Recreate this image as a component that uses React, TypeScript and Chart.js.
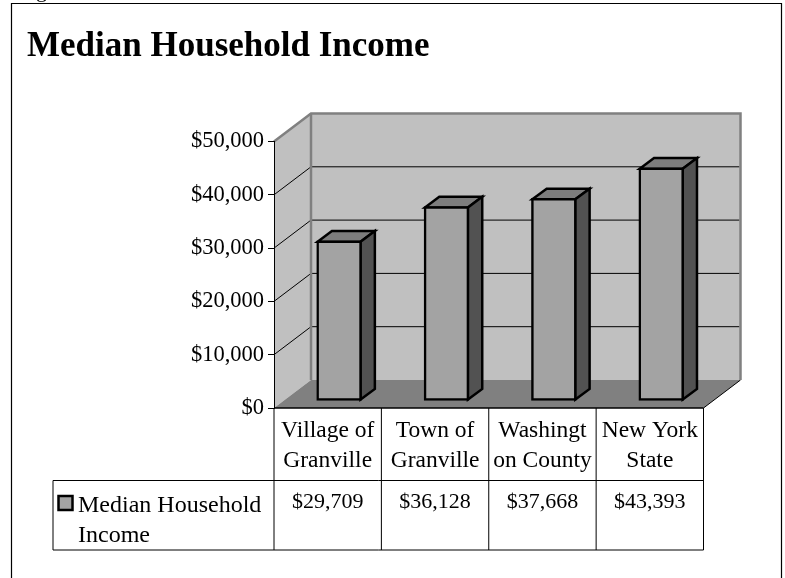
import { useEffect, useRef } from "react";
import { Chart, registerables } from "chart.js";

Chart.register(...registerables);

const titleText = "Median Household Income";
const seriesName = "Median Household Income";
const seriesNameLines = ["Median Household", "Income"];
const categoryLines = [
  ["Village of", "Granville"],
  ["Town of", "Granville"],
  ["Washingt", "on County"],
  ["New York", "State"],
];
const incomeValues = [29709, 36128, 37668, 43393];
const axisMax = 50000;
const axisStep = 10000;

const FONT = "'Liberation Serif', serif";
const money = (v: number) => "$" + v.toLocaleString("en-US");

const WALL_DX = 37;
const WALL_DY = -28;
const BAR_DX = 11.4;
const BAR_DY = -8;
const DEPTH_DX = 14.3;
const DEPTH_DY = -10.6;

function poly(ctx: CanvasRenderingContext2D, pts: number[][], fill?: string, stroke?: string, lw = 1) {
  ctx.beginPath();
  pts.forEach((p, i) => (i ? ctx.lineTo(p[0], p[1]) : ctx.moveTo(p[0], p[1])));
  if (fill) {
    ctx.closePath();
    ctx.fillStyle = fill;
    ctx.fill();
  }
  if (stroke) {
    ctx.strokeStyle = stroke;
    ctx.lineWidth = lw;
    ctx.stroke();
  }
}

const scenePlugin = {
  id: "scene3d",
  beforeDraw(chart: any) {
    const { ctx, chartArea: a, scales } = chart;
    const y = scales.y;
    ctx.save();
    // page frame and the clipped line of text above it
    poly(ctx, [[11.5, 578], [11.5, 3.5], [781.5, 3.5], [781.5, 578]], undefined, "#000", 1.2);
    ctx.font = `22px ${FONT}`;
    ctx.fillStyle = "#000";
    ctx.textAlign = "left";
    ctx.textBaseline = "alphabetic";
    ctx.fillText("g", 36, -3);

    const bl = a.left + WALL_DX;
    const br = a.right + WALL_DX;
    const bt = a.top + WALL_DY;
    const bb = a.bottom + WALL_DY;
    poly(ctx, [[bl, bt], [br, bt], [br, bb], [bl, bb]], "#c0c0c0");
    poly(ctx, [[a.left, a.top], [bl, bt], [bl, bb], [a.left, a.bottom]], "#c0c0c0");
    poly(ctx, [[a.left, a.bottom], [a.right, a.bottom], [br, bb], [bl, bb]], "#808080");
    poly(ctx, [[a.right, a.bottom], [br, bb]], undefined, "#000", 1);

    for (const t of y.ticks) {
      if (t.value === 0 || t.value === axisMax) continue;
      const py = y.getPixelForValue(t.value);
      poly(ctx, [[a.left, py], [bl, py + WALL_DY], [br - 1, py + WALL_DY]], undefined, "#000", 1);
    }
    poly(ctx, [[a.left, a.top], [bl, bt], [br, bt], [br, bb]], undefined, "#808080", 2.5);
    poly(ctx, [[bl, bt], [bl, bb]], undefined, "#808080", 2.5);
    ctx.restore();
  },
  beforeDatasetDraw(chart: any, args: any) {
    const { ctx } = chart;
    const meta = chart.getDatasetMeta(args.index);
    ctx.save();
    ctx.translate(BAR_DX, BAR_DY);
    for (const el of meta.data) {
      const x1 = el.x - el.width / 2;
      const x2 = el.x + el.width / 2;
      const top = el.y;
      const bot = el.base;
      ctx.lineJoin = "miter";
      const topFace = [[x1, top], [x1 + DEPTH_DX, top + DEPTH_DY], [x2 + DEPTH_DX, top + DEPTH_DY], [x2, top]];
      const sideFace = [[x2, top], [x2 + DEPTH_DX, top + DEPTH_DY], [x2 + DEPTH_DX, bot + DEPTH_DY], [x2, bot]];
      poly(ctx, topFace, "#7d7d7d", "#000", 2.5);
      poly(ctx, sideFace, "#525252", "#000", 2.5);
    }
  },
  afterDatasetDraw(chart: any) {
    chart.ctx.restore();
  },
  afterDraw(chart: any) {
    const { ctx, chartArea: a, scales } = chart;
    const x = scales.x;
    const rowLine = a.bottom + 72.5;
    const tableBottom = a.bottom + 142;
    const legendLeft = 53;
    const band = (a.right - a.left) / categoryLines.length;
    ctx.save();
    poly(ctx, [[a.left, a.bottom], [a.right, a.bottom]], undefined, "#000", 1.5);
    poly(ctx, [[legendLeft, rowLine], [a.right, rowLine]], undefined, "#000", 1);
    poly(ctx, [[legendLeft, tableBottom], [a.right, tableBottom]], undefined, "#000", 1);
    poly(ctx, [[legendLeft, rowLine], [legendLeft, tableBottom]], undefined, "#000", 1);
    for (let i = 0; i <= categoryLines.length; i++) {
      const vx = a.left + i * band;
      poly(ctx, [[vx, a.bottom], [vx, tableBottom]], undefined, "#000", 1);
    }
    ctx.fillStyle = "#000";
    ctx.textBaseline = "alphabetic";
    ctx.font = `22px ${FONT}`;
    ctx.textAlign = "center";
    incomeValues.forEach((v, i) => {
      ctx.fillText(money(v), x.getPixelForValue(i), rowLine + 27.5);
    });
    ctx.font = `24px ${FONT}`;
    ctx.textAlign = "left";
    seriesNameLines.forEach((line, i) => {
      ctx.fillText(line, 78, rowLine + 31 + i * 30);
    });
    ctx.fillStyle = "#a3a3a3";
    ctx.fillRect(58.5, rowLine + 15.5, 14, 14);
    ctx.strokeStyle = "#000";
    ctx.lineWidth = 2.5;
    ctx.strokeRect(58.5, rowLine + 15.5, 14, 14);
    ctx.restore();
  },
};

export default function App() {
  const ref = useRef<HTMLCanvasElement | null>(null);
  useEffect(() => {
    document.body.style.margin = "0";
    const chart = new Chart(ref.current as HTMLCanvasElement, {
      type: "bar",
      data: {
        labels: categoryLines as any,
        datasets: [
          {
            label: seriesName,
            data: incomeValues,
            backgroundColor: "#a3a3a3",
            borderColor: "#000",
            borderWidth: 2.5,
            borderSkipped: false,
            inflateAmount: 1.25,
            barPercentage: 0.4,
            categoryPercentage: 1,
            clip: false as any,
          },
        ],
      },
      options: {
        animation: false,
        responsive: false,
        devicePixelRatio: 1,
        layout: { autoPadding: false, padding: { left: 27, right: 81.5, top: 29, bottom: 28 } },
        plugins: {
          legend: { display: false },
          tooltip: { enabled: false },
          title: {
            display: true,
            text: titleText,
            align: "start",
            color: "#000",
            font: { family: FONT, size: 35, weight: "bold", lineHeight: 36 / 35 },
            padding: { top: 0, bottom: 76.5 },
          },
        },
        scales: {
          x: {
            afterFit: (s: any) => {
              s.height = 142;
            },
            grid: { display: false },
            border: { display: false },
            ticks: {
              color: "#000",
              font: { family: FONT, size: 23.5, lineHeight: 30 / 23.5 },
              padding: 0,
              maxRotation: 0,
              minRotation: 0,
              autoSkip: false,
            },
          },
          y: {
            min: 0,
            max: axisMax,
            afterFit: (s: any) => {
              s.width = 247;
            },
            grid: { drawOnChartArea: false, drawTicks: true, tickLength: 6, color: "#000" },
            border: { display: true, color: "#000", width: 1 },
            ticks: {
              stepSize: axisStep,
              color: "#000",
              font: { family: FONT, size: 22.5 },
              padding: 4,
              callback: (v: any) => money(Number(v)),
            },
          },
        },
      },
      plugins: [scenePlugin as any],
    });
    return () => chart.destroy();
  }, []);
  return <canvas ref={ref} width={785} height={578} style={{ display: "block" }} />;
}
